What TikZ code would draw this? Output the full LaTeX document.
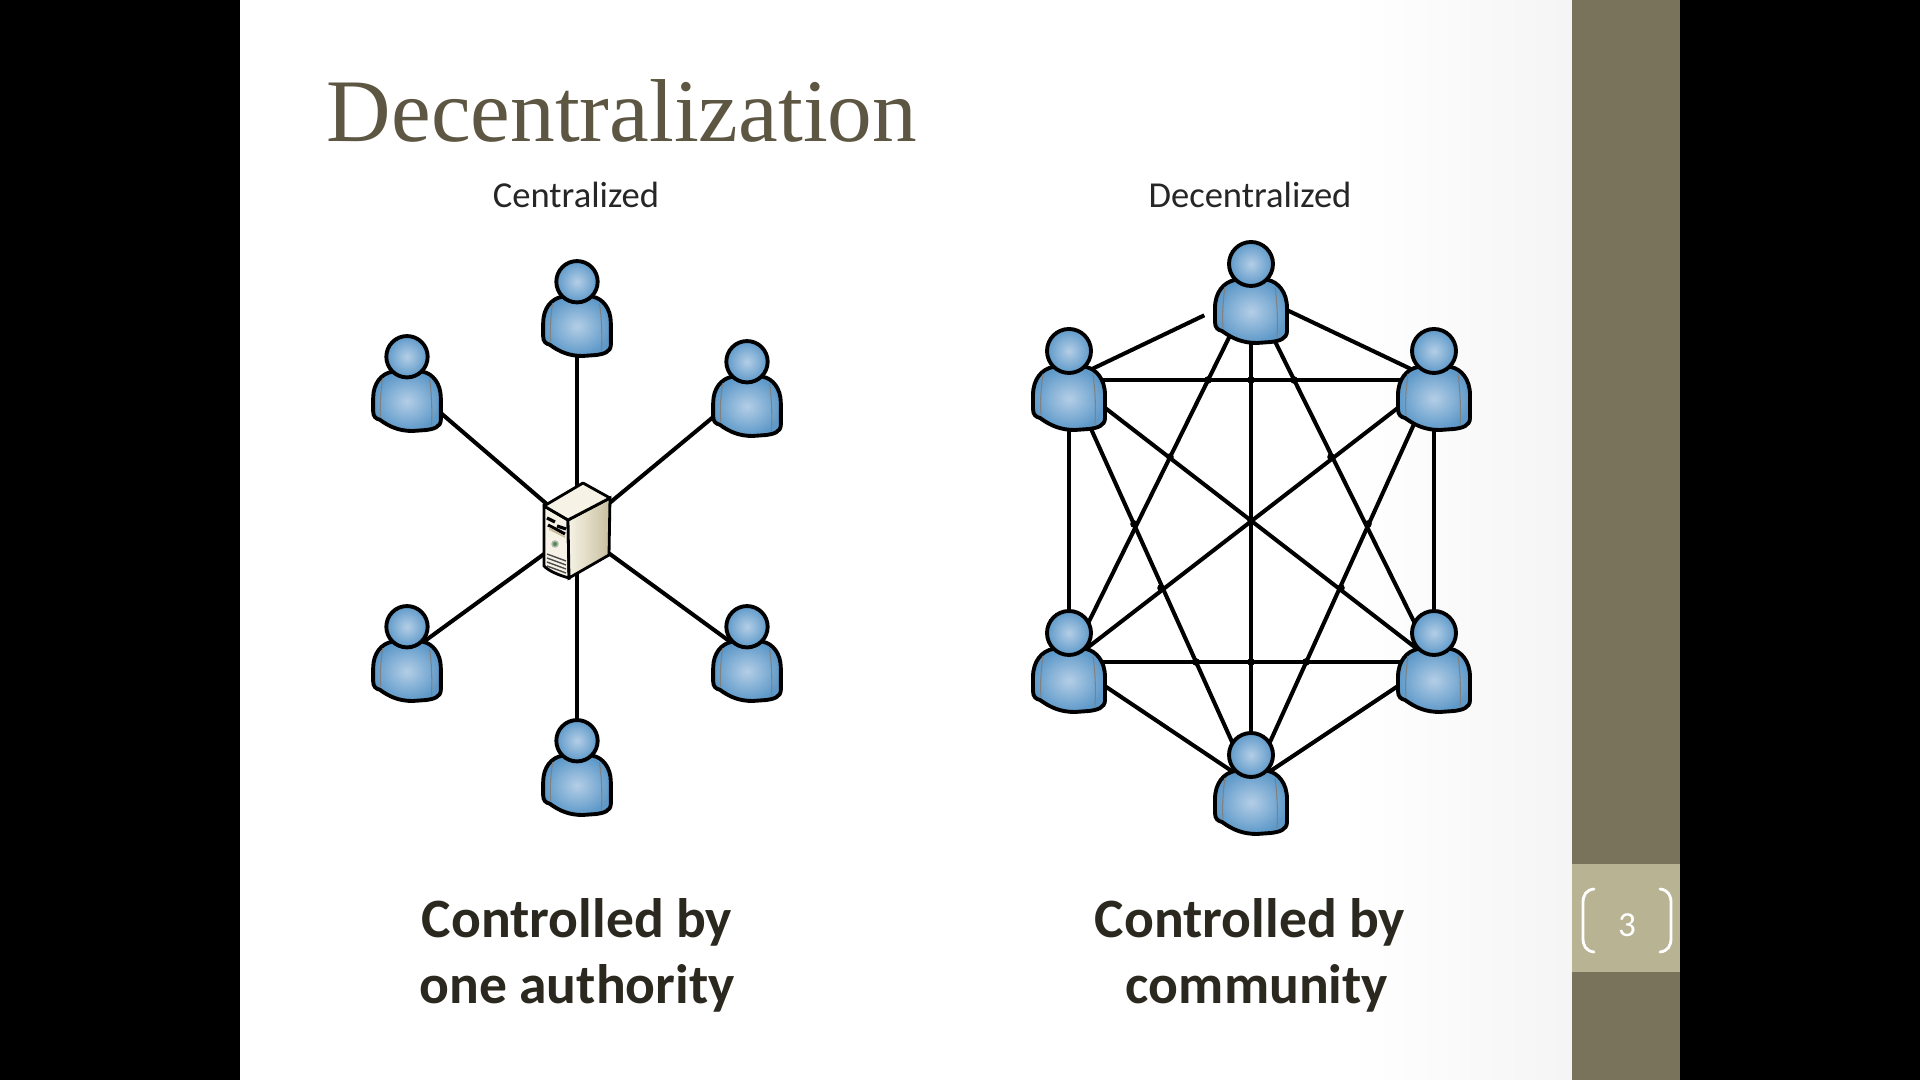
\documentclass[tikz,border=0pt]{standalone}
\usepackage{fontspec}
\setmainfont{Carlito}
\newfontfamily\titlefont{Liberation Serif}
\definecolor{sidebar}{HTML}{7A735B}
\definecolor{badge}{HTML}{B8B393}
\definecolor{titletext}{HTML}{5D5642}
\definecolor{bigtext}{HTML}{2B291F}
\definecolor{userlight}{HTML}{B4CEE6}
\definecolor{userdark}{HTML}{5E99C9}
\definecolor{srvlight}{HTML}{F6F3E6}
\definecolor{srvdark}{HTML}{C9BFA0}
\tikzset{
	pics/person/.style={code={
		\draw[line width=1.1pt,inner color=userlight,outer color=userdark]
			(-16,-13) .. controls (-27,-11) and (-36,-1) .. (-36,15) -- (-36,29)
			.. controls (-36,35) and (-33,37) .. (-29,38)
			.. controls (-18,46) and (-8,50) .. (6,50) -- (20,49)
			.. controls (28,48) and (36,46) .. (36,38) -- (36,15)
			.. controls (36,-1) and (27,-11) .. (17,-13) -- cycle;
		\draw[line width=0.3pt,black!50] (-26,-6) .. controls (-28,8) and (-29,22) .. (-28,35);
		\draw[line width=0.3pt,black!50] (24,-6) .. controls (26,8) and (27,26) .. (26,45);
		\draw[line width=1.1pt,inner color=userlight,outer color=userdark] (0,-29) circle (22);
	}}
}
\begin{document}
\begin{tikzpicture}
	[x=0.01cm,y=-0.01cm,
	user/.style={circle,inner sep=0pt,minimum size=0.3cm},
	link/.style={line width=1.15pt,black},
	caption/.style={font=\fontsize{10.4}{12}\selectfont,text=black!85},
	bigcaption/.style={font=\fontsize{15.8}{18.8}\selectfont\bfseries,text=bigtext,align=center},
	bracket/.style={white,line width=0.8pt,line cap=round}]
	% slide
	\fill[black] (0,0) rectangle (1920,1080);
	\fill[white] (240,0) rectangle (1572,1080);
	\shade[left color=white,right color=black!4] (1350,0) rectangle (1572,1080);
	\fill[sidebar] (1572,0) rectangle (1680,1080);
	\fill[badge] (1572,864) rectangle (1680,972);
	\draw[bracket] (1594,889) .. controls (1586,890) and (1583,895) .. (1583,903) -- (1583,938) .. controls (1583,946) and (1586,951) .. (1594,952);
	\draw[bracket] (1660,889) .. controls (1668,890) and (1671,895) .. (1671,903) -- (1671,938) .. controls (1671,946) and (1668,951) .. (1660,952);
	\node[name=num,text=white,font=\fontsize{10}{12}\selectfont] at (1627,925) {3};
	\node[name=title,text=titletext,font=\fontsize{25.4}{30}\selectfont\titlefont] at (622,111) {Decentralization};
	\node[name=capa,caption] at (576,195) {Centralized};
	\node[name=capb,caption] at (1250,195) {Decentralized};
	\node[name=biga,bigcaption] at (577,955) {Controlled by\\one authority};
	\node[name=bigb,bigcaption] at (1250,955) {Controlled by\\\hspace*{4pt}community};
	% centralized
	\node[user,name=srv] at (577,530) {};
	\node[user,name=a] at (577,309) {};
	\node[user,name=b] at (407,384) {};
	\node[user,name=c] at (747,389) {};
	\node[user,name=d] at (407,654) {};
	\node[user,name=e] at (747,654) {};
	\node[user,name=f] at (577,768) {};
	\draw[link](srv)--(a);
	\draw[link](srv)--(b);
	\draw[link](srv)--(c);
	\draw[link](srv)--(d);
	\draw[link](srv)--(e);
	\draw[link](srv)--(f);
	\foreach \n in {a,b,c,d,e,f}
		\pic[scale=0.94] at (\n) {person};
	% server
	\draw[line width=0.8pt,fill=srvlight] (544,506) -- (568,520) -- (569,578) .. controls (558,575) and (549,571) .. (544,566) -- cycle;
	\shade[left color=srvlight,right color=srvdark,draw=black,line width=0.8pt] (568,520) -- (610,498) -- (609,555) -- (569,578) -- cycle;
	\draw[line width=0.8pt,fill=srvlight,line join=round] (544,506) -- (583,483) -- (610,498) -- (568,520) -- cycle;
	\draw[line width=0.9pt] (547,518) -- (555,522);
	\draw[line width=0.9pt] (557,526) -- (566,529);
	\draw[line width=0.9pt] (548,525) -- (565,534);
	\fill[srvdark] (549,527) -- (565,536) -- (565,538) -- (549,530) -- cycle;
	\draw[line width=0.4pt,fill=green!40!black!70,draw=black!30] (555,544) circle (3);
	\draw[line width=0.4pt,black!70] (547,554) -- (566,561);
	\draw[line width=0.4pt,black!70] (547,558) -- (566,565);
	\draw[line width=0.4pt,black!70] (547,562) -- (566,569);
	\draw[line width=0.4pt,black!70] (547,566) -- (566,573);
	% decentralized
	\node[user,name=p] at (1251,293) {};
	\node[user,name=q] at (1069,380) {};
	\node[user,name=r] at (1434,380) {};
	\node[user,name=s] at (1069,662) {};
	\node[user,name=t] at (1434,662) {};
	\node[user,name=u] at (1251,784) {};
	\draw[link,shorten >=0.36cm](q)--(p);
	\draw[link](p)--(r);
	\draw[link](p)--(s);
	\draw[link](p)--(t);
	\draw[link](p)--(u);
	\draw[link](q)--(r);
	\draw[link](q)--(s);
	\draw[link](q)--(t);
	\draw[link](q)--(u);
	\draw[link](r)--(s);
	\draw[link](r)--(t);
	\draw[link](r)--(u);
	\draw[link](s)--(t);
	\draw[link](s)--(u);
	\draw[link](t)--(u);
	\foreach \x/\y in {1208/380,1251/380,1294/380,1196/662,1251/662,1306/662,1170/457,1331/457,1134/524,1368/524,1161/588,1341/588,1251/520}
		\fill[black] (\x,\y) circle (3.8);
	\foreach \n in {p,q,r,s,t,u}
		\pic at (\n) {person};
\end{tikzpicture}
\end{document}
